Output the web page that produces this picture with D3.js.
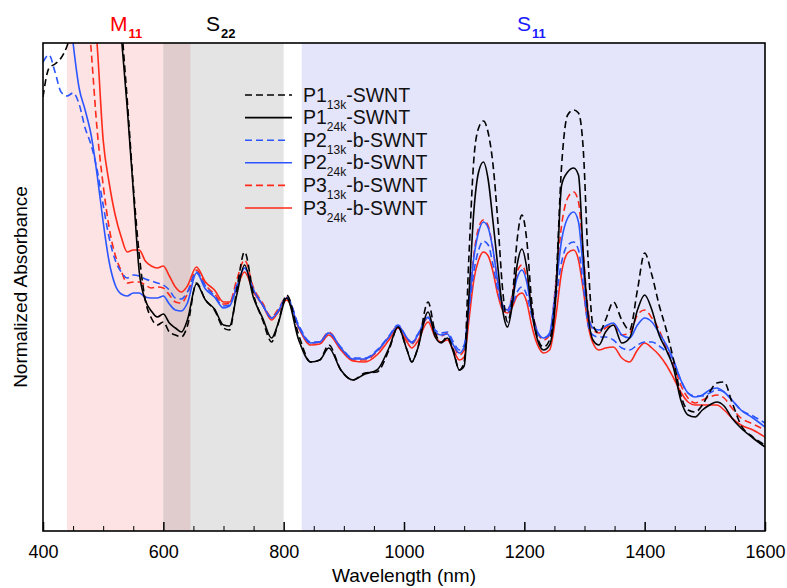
<!DOCTYPE html>
<html><head><meta charset="utf-8">
<script src="https://cdn.jsdelivr.net/npm/d3@7"></script>
<style>body{margin:0;background:#fff;} text{font-family:"Liberation Sans",Arial,Helvetica,sans-serif;}</style>
</head><body><svg id="chart" width="787" height="588"></svg>
<script>
// ---------------- DATA ----------------
const wavelengths = [400,410,420,430,440,450,460,470,480,490,500,510,520,530,540,550,560,570,580,590,600,610,620,630,640,
 655,670,685,700,710,722,735,750,765,780,790,805,
 825,845,860,875,895,915,935,955,975,990,
 1005,1013,1022,1040,1052,1062,1072,1082,1092,1100,
 1108,1116,1124,1132,1140,1148,1156,1164,1172,1180,
 1188,1196,1204,1212,1222,1232,1242,1252,1262,1272,
 1282,1290,1298,1306,1314,1324,1335,1348,1362,1375,
 1388,1400,1412,1424,1436,1448,1460,1472,1484,1496,
 1508,1520,1532,1545,1560,1580,1600];

const p1_13k = [4.34,4.63,4.67,4.73,4.85,5.06,5.41,5.91,6.21,6.31,6.31,6.26,6.01,5.11,4.31,3.46,2.76,2.31,2.13,2.06,2.09,1.99,1.96,1.94,2.05,
 2.48,2.31,2.21,2.03,2.01,2.41,2.79,2.36,2.11,1.89,2.06,2.36,
 1.96,1.69,1.71,1.86,1.61,1.51,1.58,1.59,1.81,2.04,
 1.81,1.69,1.81,2.29,1.98,1.89,1.94,1.81,1.61,1.69,
 2.76,3.71,4.03,4.10,3.98,3.66,3.09,2.41,2.09,2.33,
 2.91,3.16,2.91,2.31,1.93,1.84,1.91,2.41,3.66,4.16,
 4.21,4.18,3.81,2.71,2.06,1.98,2.11,2.29,2.11,2.01,
 2.41,2.78,2.56,2.26,2.01,1.71,1.36,1.21,1.19,1.26,
 1.39,1.48,1.49,1.29,1.06,0.94,0.86];

const p1_24k = [6.81,6.81,6.81,6.81,6.81,6.81,6.81,6.81,6.81,6.81,6.81,6.51,5.71,4.96,4.23,3.41,2.59,2.31,2.20,2.14,2.17,2.08,2.03,1.99,2.11,
 2.47,2.31,2.22,2.06,2.05,2.36,2.66,2.33,2.13,1.93,2.06,2.33,
 1.91,1.69,1.71,1.83,1.61,1.51,1.57,1.61,1.83,2.04,
 1.81,1.69,1.81,2.19,1.94,1.88,1.93,1.79,1.61,1.65,
 2.36,3.19,3.59,3.69,3.51,3.09,2.64,2.21,2.04,2.26,
 2.66,2.82,2.63,2.21,1.91,1.81,1.86,2.31,3.46,3.59,
 3.63,3.56,2.76,2.16,1.91,1.86,1.99,2.06,1.88,1.93,
 2.21,2.36,2.21,1.96,1.81,1.63,1.31,1.16,1.14,1.21,
 1.26,1.29,1.25,1.13,1.03,0.93,0.84];

const p2_13k = [4.69,4.76,4.59,4.39,4.35,4.38,4.27,4.03,3.86,3.61,3.26,2.93,2.71,2.59,2.53,2.56,2.55,2.52,2.50,2.48,2.46,2.41,2.33,2.32,2.39,
 2.59,2.45,2.35,2.25,2.26,2.46,2.63,2.41,2.26,2.13,2.19,2.34,
 2.06,1.89,1.89,1.98,1.84,1.73,1.73,1.81,1.95,2.06,
 1.93,1.89,1.96,2.13,2.01,1.98,1.99,1.89,1.81,1.86,
 2.21,2.59,2.81,2.90,2.86,2.66,2.41,2.23,2.19,2.26,
 2.39,2.44,2.36,2.16,1.98,1.93,1.96,2.31,2.69,2.86,
 2.89,2.81,2.46,2.06,1.96,1.94,1.94,1.91,1.83,1.81,
 1.86,1.89,1.89,1.85,1.79,1.69,1.51,1.38,1.35,1.35,
 1.38,1.41,1.39,1.31,1.21,1.15,1.08];

const p2_24k = [5.91,5.91,5.81,5.71,5.46,4.88,4.43,4.21,3.96,3.56,3.09,2.69,2.46,2.37,2.35,2.38,2.38,2.34,2.33,2.33,2.35,2.27,2.21,2.20,2.28,
 2.58,2.42,2.34,2.23,2.25,2.44,2.63,2.41,2.26,2.13,2.19,2.33,
 2.04,1.88,1.89,1.98,1.83,1.72,1.72,1.80,1.94,2.05,
 1.93,1.88,1.95,2.14,1.99,1.96,1.97,1.86,1.78,1.84,
 2.26,2.73,2.99,3.09,3.03,2.81,2.49,2.26,2.21,2.33,
 2.53,2.61,2.49,2.21,1.99,1.93,1.98,2.41,2.91,3.13,
 3.19,3.09,2.61,2.16,2.03,2.01,2.05,2.08,1.96,1.93,
 2.06,2.13,2.09,1.98,1.86,1.71,1.51,1.38,1.34,1.36,
 1.41,1.43,1.39,1.31,1.21,1.13,1.04];

const p3_13k = [6.11,6.11,6.11,6.11,6.11,6.06,5.91,5.51,4.81,4.01,3.46,3.03,2.76,2.60,2.48,2.49,2.49,2.46,2.43,2.44,2.43,2.36,2.29,2.28,2.37,
 2.61,2.46,2.37,2.27,2.28,2.51,2.71,2.43,2.28,2.14,2.21,2.34,
 2.05,1.88,1.89,1.99,1.83,1.71,1.71,1.79,1.94,2.05,
 1.92,1.87,1.94,2.13,1.98,1.95,1.98,1.86,1.76,1.81,
 2.26,2.76,3.03,3.11,3.05,2.81,2.48,2.26,2.21,2.36,
 2.59,2.66,2.53,2.23,1.99,1.91,1.96,2.46,3.06,3.33,
 3.39,3.29,2.76,2.21,2.01,1.98,2.03,2.06,1.96,1.98,
 2.16,2.21,2.13,2.01,1.83,1.66,1.46,1.33,1.28,1.31,
 1.34,1.36,1.33,1.23,1.13,1.07,1.01];

const p3_24k = [6.11,6.11,6.11,6.11,6.11,6.11,6.06,5.91,5.51,4.86,3.91,3.48,3.16,2.94,2.79,2.81,2.81,2.70,2.65,2.63,2.65,2.55,2.44,2.39,2.45,
 2.64,2.49,2.41,2.29,2.29,2.43,2.59,2.39,2.26,2.11,2.18,2.31,
 2.03,1.86,1.87,1.96,1.81,1.70,1.69,1.76,1.91,2.03,
 1.89,1.83,1.89,2.09,1.94,1.89,1.91,1.81,1.71,1.74,
 2.11,2.51,2.71,2.79,2.75,2.59,2.36,2.21,2.18,2.24,
 2.35,2.38,2.29,2.06,1.86,1.78,1.81,2.13,2.59,2.78,
 2.81,2.71,2.41,2.06,1.88,1.81,1.83,1.84,1.73,1.69,
 1.81,1.88,1.83,1.76,1.66,1.53,1.39,1.29,1.26,1.26,
 1.26,1.26,1.21,1.13,1.06,1.01,0.94];

const seriesPrefix = ["P1","P1","P2","P2","P3","P3"];
const seriesSub    = ["13k","24k","13k","24k","13k","24k"];
const seriesSuffix = ["-SWNT","-SWNT","-b-SWNT","-b-SWNT","-b-SWNT","-b-SWNT"];
const seriesValues = [p1_13k, p1_24k, p2_13k, p2_24k, p3_13k, p3_24k];

const bandFrom = [440, 600, 600, 830];
const bandTo   = [645, 800, 645, 1600];
const majorTicks = [400,600,800,1000,1200,1400,1600];
const minorTicks = d3.range(400, 1601, 50);
const xDomain = [400, 1600];
const yDomain = [0, 4.88];

// ---------------- STYLE ----------------
const W = 787, H = 588;
const m = {left:43, right:22, top:43, bottom:57};
const colors = ["#000000","#000000","#2a55ff","#2a55ff","#ff2a1a","#ff2a1a"];
const dashed = [true,false,true,false,true,false];
const bandColors = ["#fde3e3","#e4e4e4","#e0cccc","#e4e4fb"];

const svg = d3.select("#chart");
const x = d3.scaleLinear().domain(xDomain).range([m.left, W - m.right]);
const y = d3.scaleLinear().domain(yDomain).range([H - m.bottom, m.top]);

svg.append("defs").append("clipPath").attr("id","clip")
  .append("rect").attr("x", x(400)).attr("y", y(yDomain[1]))
  .attr("width", x(1600)-x(400)).attr("height", y(0)-y(yDomain[1]));

// bands
svg.append("g").selectAll("rect").data(bandFrom).join("rect")
  .attr("x", (d,i)=>x(d)).attr("width",(d,i)=>x(bandTo[i])-x(d))
  .attr("y", y(yDomain[1])).attr("height", y(0)-y(yDomain[1]))
  .attr("fill", (d,i)=>bandColors[i]);

// lines
const line = d3.line().x((d,i)=>x(wavelengths[i])).y(d=>y(d)).curve(d3.curveMonotoneX);
const order = [5,4,3,2,1,0];
svg.append("g").attr("clip-path","url(#clip)").selectAll("path").data(order).join("path")
  .attr("d", i=>line(seriesValues[i]))
  .attr("fill","none").attr("stroke", i=>colors[i]).attr("stroke-width",1.6)
  .attr("stroke-dasharray", i=>dashed[i] ? "7,4" : null);

// axes
const gx = svg.append("g").attr("transform",`translate(0,${y(0)})`)
  .call(d3.axisBottom(x).tickValues(majorTicks).tickSize(-9).tickPadding(14).tickFormat(d3.format("d")));
gx.select(".domain").remove();
gx.selectAll("line").attr("stroke","#000").attr("stroke-width",1.5);
gx.selectAll("text").attr("font-size",18).attr("fill","#000")
  .style("font-family","'Liberation Sans',Arial,sans-serif");
const gm = svg.append("g").attr("transform",`translate(0,${y(0)})`)
  .call(d3.axisBottom(x).tickValues(minorTicks.filter(v=>!majorTicks.includes(v))).tickSize(-5).tickFormat(""));
gm.select(".domain").remove();
gm.selectAll("line").attr("stroke","#000").attr("stroke-width",1);

// frame
svg.append("rect").attr("x",x(400)).attr("y",y(yDomain[1]))
  .attr("width",x(1600)-x(400)).attr("height",y(0)-y(yDomain[1]))
  .attr("fill","none").attr("stroke","#000").attr("stroke-width",1.6);

// axis titles
svg.append("text").attr("x",(x(400)+x(1600))/2).attr("y",582).attr("text-anchor","middle")
  .attr("font-size",19).text("Wavelength (nm)");
svg.append("text").attr("transform",`translate(27,${(y(0)+y(yDomain[1]))/2}) rotate(-90)`)
  .attr("text-anchor","middle").attr("font-size",19).text("Normalized Absorbance");

// band labels
const bandLabels = [{t:"M",s:"11",x:110,c:"#ff0000"},{t:"S",s:"22",x:206,c:"#000000"},{t:"S",s:"11",x:517,c:"#1a1aff"}];
bandLabels.forEach(b=>{
  const t = svg.append("text").attr("x",b.x).attr("y",31).attr("fill",b.c).attr("font-size",21);
  t.append("tspan").text(b.t);
  t.append("tspan").attr("dy",7).attr("dx",1).attr("font-size",13).attr("font-weight","bold").text(b.s);
});

// legend
const lg = svg.append("g");
[0,1,2,3,4,5].forEach(i=>{
  const ly = 95 + i*22.6;
  lg.append("line").attr("x1",245).attr("x2", dashed[i] && i>1 ? 287 : 292).attr("y1",ly).attr("y2",ly)
    .attr("stroke",colors[i]).attr("stroke-width",1.6).attr("stroke-dasharray",dashed[i]?"7,4":null);
  const t = lg.append("text").attr("x",303).attr("y",ly+6.5).attr("font-size",19.5).attr("fill","#111");
  t.append("tspan").text(seriesPrefix[i]);
  t.append("tspan").attr("dy",7).attr("font-size",12).text(seriesSub[i]);
  t.append("tspan").attr("dy",-7).text(seriesSuffix[i]);
});
</script></body></html>
